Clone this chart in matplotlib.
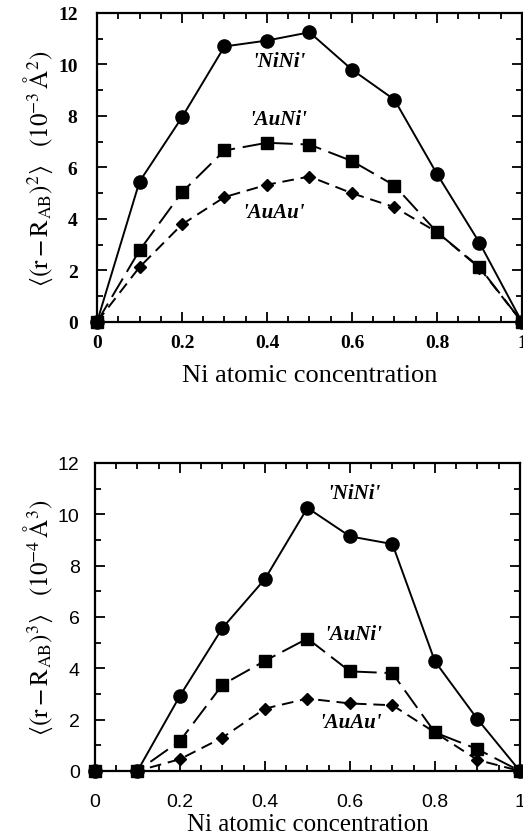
import numpy as np
import matplotlib
matplotlib.use("Agg")
import matplotlib.pyplot as plt
from matplotlib.ticker import MultipleLocator, FixedLocator

plt.rcParams['mathtext.fontset'] = 'stix'

conc = [0.0, 0.1, 0.2, 0.3, 0.4, 0.5, 0.6, 0.7, 0.8, 0.9, 1.0]

# second moment, 1e-3 A^2
m2_nini = [0.0, 5.45, 7.95, 10.7, 10.93, 11.25, 9.8, 8.63, 5.75, 3.08, 0.0]
m2_auni = [0.0, 2.78, 5.04, 6.66, 6.96, 6.89, 6.25, 5.3, 3.49, 2.13, 0.0]
m2_auau = [0.0, 2.13, 3.79, 4.85, 5.33, 5.65, 5.0, 4.46, 3.49, 2.1, 0.0]

# third moment, 1e-4 A^3
m3_nini = [0.0, 0.0, 2.93, 5.57, 7.48, 10.25, 9.14, 8.84, 4.27, 2.02, 0.0]
m3_auni = [0.0, 0.0, 1.17, 3.36, 4.29, 5.16, 3.88, 3.81, 1.5, 0.85, 0.0]
m3_auau = [0.0, 0.0, 0.46, 1.3, 2.43, 2.82, 2.63, 2.56, 1.5, 0.43, 0.0]

xticks = [0, 0.2, 0.4, 0.6, 0.8, 1.0]
xticklabels = ['0', '0.2', '0.4', '0.6', '0.8', '1']

fig = plt.figure(figsize=(5.23, 8.37), dpi=100)
ax1 = fig.add_axes([0.1855, 0.6141, 0.8125, 0.3692])
ax2 = fig.add_axes([0.1816, 0.0777, 0.8125, 0.3680])


def style_axes(ax, tickfont, tickweight, xpad, ypad, xlab_y, xlab_size):
    ax.set_xlim(0, 1)
    ax.set_ylim(0, 12)
    ax.xaxis.set_major_locator(FixedLocator(xticks))
    ax.xaxis.set_minor_locator(MultipleLocator(0.05))
    ax.yaxis.set_major_locator(MultipleLocator(2))
    ax.yaxis.set_minor_locator(MultipleLocator(1))
    ax.set_xticklabels(xticklabels)
    ax.tick_params(which='both', direction='in', top=True, right=True, width=1.3)
    ax.tick_params(which='major', length=7)
    ax.tick_params(which='minor', length=4)
    ax.tick_params(axis='x', which='major', pad=xpad)
    ax.tick_params(axis='y', which='major', pad=ypad)
    for lab in ax.get_xticklabels() + ax.get_yticklabels():
        lab.set_fontfamily(tickfont)
        lab.set_fontweight(tickweight)
        lab.set_fontsize(14)
    for sp in ax.spines.values():
        sp.set_linewidth(1.6)
    ax.set_xlabel('Ni atomic concentration', family='Liberation Serif',
                  fontsize=xlab_size, va='center')
    ax.xaxis.set_label_coords(0.5, xlab_y)


def draw(ax, nini, auni, auau):
    ax.plot(conc, nini, color='black', lw=1.4, marker='o', ms=9.5, clip_on=False)
    ax.plot(conc, auni, color='black', lw=1.4, ls=(0, (11, 4)), marker='s', ms=8.5,
            clip_on=False)
    ax.plot(conc, auau, color='black', lw=1.4, ls=(0, (6, 3.5)), marker='D', ms=6.5,
            clip_on=False)


lab_kw = dict(family='Liberation Serif', style='italic', weight='bold',
              fontsize=15, ha='center', va='center')

draw(ax1, m2_nini, m2_auni, m2_auau)
style_axes(ax1, 'Liberation Serif', 'bold', 9, 14, -0.17, 19)
ax1.text(0.427, 10.15, "'NiNi'", **lab_kw)
ax1.text(0.427, 7.9, "'AuNi'", **lab_kw)
ax1.text(0.415, 4.27, "'AuAu'", **lab_kw)
ax1.set_ylabel(r'$\langle(\mathrm{r-R_{AB}})^2\rangle\quad(10^{-3}\,\mathrm{\AA}^2)$',
               fontsize=18, labelpad=2)

draw(ax2, m3_nini, m3_auni, m3_auau)
style_axes(ax2, 'Liberation Sans', 'normal', 16, 11, -0.172, 18)
ax2.text(0.608, 10.83, "'NiNi'", **lab_kw)
ax2.text(0.608, 5.33, "'AuNi'", **lab_kw)
ax2.text(0.6, 1.89, "'AuAu'", **lab_kw)
ax2.set_ylabel(r'$\langle(\mathrm{r-R_{AB}})^3\rangle\quad(10^{-4}\,\mathrm{\AA}^3)$',
               fontsize=18, labelpad=2)

fig.savefig('out.png', dpi=100)
